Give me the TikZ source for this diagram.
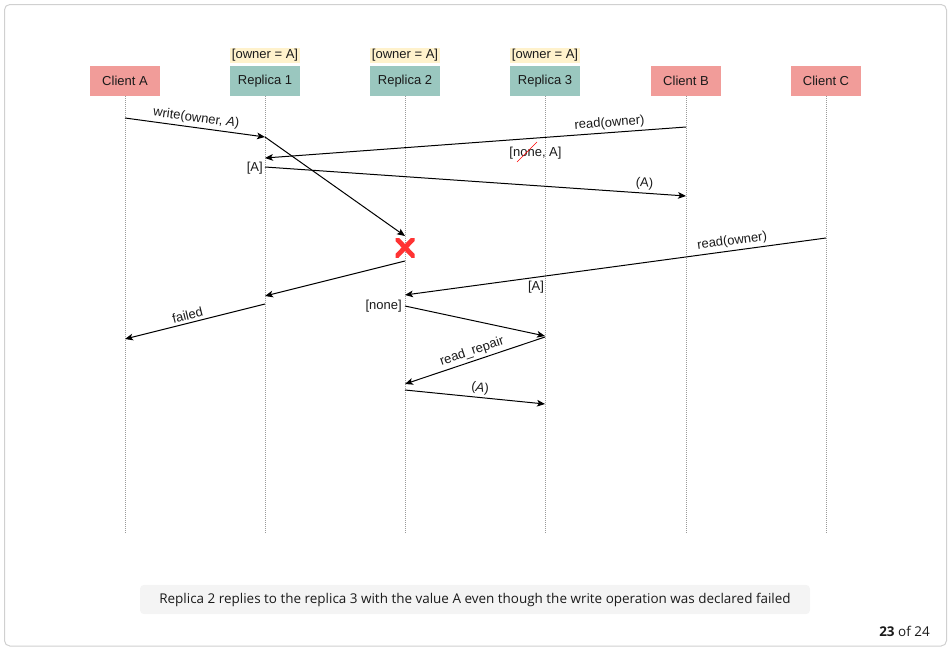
\documentclass[tikz,border=0pt]{standalone}
\usepackage{fontspec}
\setmainfont{Liberation Sans}
\newfontfamily\capfont{Open Sans}
\usetikzlibrary{arrows.meta}
\definecolor{clientred}{HTML}{F19C99}
\definecolor{replgreen}{HTML}{9AC7BF}
\definecolor{ownyellow}{HTML}{FFF2CC}
\definecolor{framegray}{HTML}{D0D0D0}
\definecolor{capgray}{HTML}{F4F4F4}
\definecolor{xred}{HTML}{FF3333}
\definecolor{txt}{HTML}{1A1A1A}
\begin{document}
\begin{tikzpicture}[x=0.75pt,y=-0.75pt,
  every node/.style={font=\fontsize{9.75}{11}\selectfont, text=txt},
  actor/.style={minimum width=52pt, minimum height=22.5pt, inner sep=0pt},
  client/.style={actor, fill=clientred},
  replica/.style={actor, fill=replgreen},
  owner/.style={fill=ownyellow, inner sep=1.2pt},
  life/.style={draw=gray!80, line width=0.75pt, dash pattern=on 0.75pt off 0.75pt},
  msg/.style={draw=black, line width=0.75pt, -{Stealth[length=6pt,width=5pt,inset=1.5pt]}},
  mlabel/.style={sloped, above, inner sep=2pt},
]
\useasboundingbox (0,0) rectangle (951,650);
\draw[framegray, line width=0.75pt, rounded corners=4pt] (4.5,4.5) rectangle (946.5,646);

% actors
\node[client]  (ca) at (125,81) {Client A};
\node[replica] (r1) at (265,81) {Replica 1};
\node[replica] (r2) at (405,81) {Replica 2};
\node[replica] (r3) at (545,81) {Replica 3};
\node[client]  (cb) at (686,81) {Client B};
\node[client]  (cc) at (826,81) {Client C};

\node[owner] (o1) at (265,55.5) {[owner = A]};
\node[owner] (o2) at (405,55.5) {[owner = A]};
\node[owner] (o3) at (545,55.5) {[owner = A]};

% lifelines
\coordinate (eA) at (125,533);
\coordinate (e1) at (265,533);
\coordinate (e2) at (405,533);
\coordinate (e3) at (545,533);
\coordinate (eB) at (686,533);
\coordinate (eC) at (826,533);
\draw[life] (ca.south) -- (eA);
\draw[life] (r1.south) -- (e1);
\draw[life] (r2.south) -- (e2);
\draw[life] (r3.south) -- (e3);
\draw[life] (cb.south) -- (eB);
\draw[life] (cc.south) -- (eC);

% message points
\coordinate (w1) at (125,118);
\coordinate (w2) at (265,137);
\coordinate (w3) at (405,236);
\coordinate (rb1) at (686,127);
\coordinate (rb2) at (265,158);
\coordinate (ra1) at (265,167);
\coordinate (ra2) at (686,196);
\coordinate (f1) at (405,261);
\coordinate (f2) at (265,296);
\coordinate (f3) at (265,304);
\coordinate (f4) at (125,339);
\coordinate (rc1) at (826,238);
\coordinate (rc2) at (405,295);
\coordinate (n1) at (405,306);
\coordinate (n2) at (545,336);
\coordinate (rr1) at (545,337);
\coordinate (rr2) at (405,384);
\coordinate (v1) at (405,390);
\coordinate (v2) at (545,404);

% messages
\draw[msg] (w1) -- node[mlabel, pos=0.5] {write(owner, \textit{A})} (w2);
\draw[msg] (w2) -- (w3);
\draw[msg] (rb1) -- node[mlabel, pos=0.18] {read(owner)} (rb2);
\draw[msg] (ra1) -- node[mlabel, pos=0.9] {(A)} (ra2);
\draw[msg] (f1) -- (f2);
\draw[msg] (f3) -- node[mlabel, pos=0.54] {failed} (f4);
\draw[msg] (rc1) -- node[mlabel, pos=0.22] {read(owner)} (rc2);
\draw[msg] (n1) -- (n2);
\draw[msg] (rr1) -- node[mlabel, pos=0.5] {read\_repair} (rr2);
\draw[msg] (v1) -- node[mlabel, pos=0.53] {(\textit{A})} (v2);

% state labels
\node[anchor=east, inner sep=0pt] (sa) at (263,168) {[A]};
\node[inner sep=0pt] (sna) at (535.5,153) {[none, A]};
\draw[red, line width=0.5pt] (517,162) -- (537,142);
\node[inner sep=0pt] (sa2) at (536,287) {[A]};
\node[anchor=east, inner sep=0pt] (sn) at (402,306) {[none]};

% failure mark
\begin{scope}
  \clip (395.5,238) rectangle (414.5,257);
  \draw[xred, line width=3.6pt] (394,236) -- (416,259);
  \draw[xred, line width=3.6pt] (416,236) -- (394,259);
\end{scope}

% caption
\node[fill=capgray, rounded corners=3pt, minimum width=502.5pt, minimum height=22pt, inner sep=0pt,
      font=\capfont\fontsize{10.1}{12}\selectfont] (cap) at (475,599.5)
  {Replica 2 replies to the replica 3 with the value A even though the write operation was declared failed};
\node[anchor=east, inner sep=0pt, font=\capfont\fontsize{10.1}{12}\selectfont] (pg) at (930,631) {\textbf{23} of 24};
\end{tikzpicture}
\end{document}
